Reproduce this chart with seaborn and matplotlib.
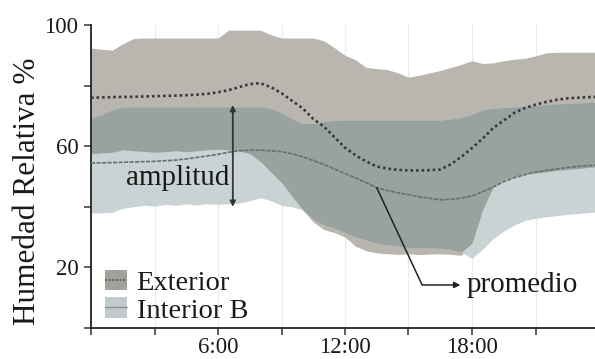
import numpy as np
import pandas as pd
import matplotlib
matplotlib.use("Agg")
import matplotlib.pyplot as plt
import seaborn as sns
from matplotlib.patches import Patch
from matplotlib.lines import Line2D
from matplotlib.legend_handler import HandlerTuple

# ---------------- data (hour of day, relative humidity %) ----------------
hours = np.arange(0, 24.5, 0.5)

ext_hi = [92.4, 92.0, 91.7, 93.8, 95.5, 95.7, 95.7, 95.7, 95.7, 95.7, 95.7, 95.7, 95.7,
          98.3, 98.3, 98.3, 98.3, 96.8, 95.7, 95.7, 95.7, 95.7, 94.8, 92.5, 90.0, 88.5,
          86.0, 85.6, 85.3, 84.2, 82.8, 83.4, 84.2, 85.0, 86.0, 87.0, 88.2, 87.3, 87.5,
          88.2, 88.7, 89.0, 89.8, 90.8, 91.0, 91.0, 91.0, 91.0, 91.0]
ext_lo = [57.5, 57.8, 58.0, 58.8, 58.5, 58.3, 58.0, 58.2, 58.5, 58.2, 58.5, 58.8, 59.0,
          58.8, 58.5, 57.5, 55.0, 51.5, 48.0, 43.5, 39.0, 35.0, 32.5, 31.5, 30.0, 27.0,
          25.5, 24.8, 24.5, 24.3, 24.5, 24.2, 24.4, 24.5, 24.3, 24.0, 28.0, 39.0, 46.5,
          49.0, 50.0, 50.8, 51.2, 51.5, 52.0, 52.3, 52.6, 53.0, 53.2]
int_hi = [69.3, 70.5, 72.0, 73.0, 73.0, 73.0, 73.0, 73.0, 73.0, 73.0, 73.0, 73.0, 73.0,
          73.0, 73.0, 73.0, 73.0, 72.5, 71.0, 69.0, 67.5, 67.5, 68.2, 68.5, 68.6, 68.6,
          68.6, 68.6, 68.6, 68.6, 68.6, 68.6, 68.6, 68.6, 69.0, 69.5, 70.5, 72.0, 72.5,
          72.8, 73.0, 73.2, 73.5, 73.7, 74.0, 74.1, 74.3, 74.4, 74.5]
int_lo = [38.0, 38.0, 38.2, 39.5, 40.0, 40.5, 40.2, 40.8, 40.5, 41.0, 40.6, 41.0, 40.8,
          41.0, 41.2, 42.0, 43.0, 42.0, 40.5, 40.0, 39.0, 36.0, 34.0, 33.0, 31.5, 30.0,
          29.0, 28.0, 27.5, 27.0, 26.5, 26.5, 26.5, 26.3, 26.0, 25.0, 23.0, 26.0, 29.5,
          32.0, 34.0, 35.5, 36.2, 36.7, 37.1, 37.5, 37.8, 38.1, 38.3]
ext_mean = [76.0, 76.1, 76.2, 76.25, 76.3, 76.4, 76.5, 76.6, 76.7, 76.85, 77.0, 77.3, 77.8,
            78.5, 79.5, 80.5, 80.8, 79.5, 77.5, 75.0, 72.5, 69.0, 66.5, 63.0, 59.5, 57.0,
            55.0, 53.3, 52.6, 52.2, 52.0, 52.0, 52.1, 52.3, 54.0, 56.5, 59.4, 62.5, 66.0,
            68.5, 71.0, 72.6, 73.7, 74.6, 75.3, 75.8, 76.0, 76.2, 76.3]
int_mean = [54.5, 54.5, 54.6, 54.7, 54.8, 54.9, 55.0, 55.2, 55.4, 55.8, 56.3, 56.8, 57.3,
            58.0, 58.5, 58.7, 58.7, 58.5, 58.2, 57.5, 56.5, 55.3, 54.0, 52.5, 51.0, 49.5,
            48.0, 46.3, 45.4, 44.6, 44.0, 43.3, 42.8, 42.3, 42.5, 42.9, 43.6, 45.0, 46.5,
            48.3, 49.6, 50.6, 51.4, 52.0, 52.5, 53.0, 53.3, 53.6, 53.8]

series_labels = ["Exterior", "Interior B"]
xtick_pos = [0, 3, 6, 9, 12, 15, 18, 21]
xtick_lab = ["", "", "6:00", "", "12:00", "", "18:00", ""]
ytick_pos = [0, 20, 40, 60, 80, 100]
ytick_lab = ["", "20", "", "60", "", "100"]

# ---------------- style ----------------
sns.set_theme(style="ticks")
plt.rcParams["font.family"] = ["Liberation Serif", "DejaVu Serif"]
plt.rcParams["text.color"] = "#1a1a1a"

C_EXT = "#b8b6af"
C_INT = "#c9d3d4"
C_OV = "#98a3a0"
C_EXT_LEG = "#a3a19c"
C_INT_LEG = "#c2cacb"

fig = plt.figure(figsize=(5.95, 3.59), dpi=100)
ax = fig.add_axes([91 / 595, 31 / 359, 508 / 595, 303 / 359])

e_lo, e_hi = np.array(ext_lo), np.array(ext_hi)
i_lo, i_hi = np.array(int_lo), np.array(int_hi)
ax.fill_between(hours, e_lo, e_hi, color=C_EXT, lw=0, zorder=1)
ax.fill_between(hours, i_lo, i_hi, color=C_INT, lw=0, zorder=1.1)
ov_lo = np.maximum(e_lo, i_lo)
ov_hi = np.minimum(e_hi, i_hi)
ax.fill_between(hours, ov_lo, ov_hi, where=ov_hi > ov_lo, interpolate=True,
                color=C_OV, lw=0, zorder=1.2)

df = pd.DataFrame({"hora": np.concatenate([hours, hours]),
                   "hr": np.concatenate([ext_mean, int_mean]),
                   "serie": [series_labels[0]] * len(hours) + [series_labels[1]] * len(hours)})
sns.lineplot(data=df[df.serie == series_labels[0]], x="hora", y="hr", ax=ax,
             color="#3a3a3a", lw=1.9, linestyle=(0, (1, 1.1)), zorder=3, legend=False)
sns.lineplot(data=df[df.serie == series_labels[1]], x="hora", y="hr", ax=ax,
             color="#65706e", lw=1.2, linestyle=(0, (2.5, 0.8)), zorder=3, legend=False)

# axes
ax.set_xlim(0, 24)
ax.set_ylim(0, 100)
ax.set_xticks(xtick_pos)
ax.set_xticklabels(xtick_lab)
ax.set_yticks(ytick_pos)
ax.set_yticklabels(ytick_lab)
ax.tick_params(axis="both", length=5, width=1.1, colors="#333333", labelsize=16.5,
               labelcolor="#1a1a1a", direction="out")
ax.tick_params(axis="y", pad=4)
ax.tick_params(axis="x", pad=1.5)
ax.set_xlabel("")
ax.set_ylabel("Humedad Relativa %", fontsize=22.5, color="#1a1a1a")
ax.yaxis.set_label_coords(-0.097, 0.45)
for s in ["top", "right"]:
    ax.spines[s].set_visible(False)
for s in ["left", "bottom"]:
    ax.spines[s].set_linewidth(1.3)
    ax.spines[s].set_color("#222222")
ax.grid(axis="x", color="#ebebeb", lw=0.9)
ax.set_axisbelow(True)

# annotations
ax.annotate("", xy=(6.7, 40.0), xytext=(6.7, 73.6),
            arrowprops=dict(arrowstyle="<|-|>", color="#333333", lw=1.3,
                            mutation_scale=8, shrinkA=0, shrinkB=0), zorder=4)
ax.text(4.1, 49.5, "amplitud", ha="center", va="center", fontsize=21, zorder=4)
ax.annotate("", xy=(17.45, 14.2), xytext=(13.5, 46.3),
            arrowprops=dict(arrowstyle="-|>", color="#222222", lw=1.1, mutation_scale=9,
                            connectionstyle="angle,angleA=-65,angleB=0,rad=0",
                            shrinkA=0, shrinkB=0), zorder=4)
ax.text(17.75, 14.2, "promedio", ha="left", va="center", fontsize=21, zorder=4)

# legend
h_ext = (Patch(facecolor=C_EXT_LEG, edgecolor="none"),
         Line2D([], [], color="#555555", lw=1.3, linestyle=(0, (1, 1))))
h_int = (Patch(facecolor=C_INT_LEG, edgecolor="none"),
         Line2D([], [], color="#8a9492", lw=1.0))
ax.legend([h_ext, h_int], series_labels, handler_map={tuple: HandlerTuple(ndivide=1)},
          loc="upper left", bbox_to_anchor=(0.0, 0.24), frameon=False, fontsize=20.5,
          handlelength=0.75, handleheight=0.75, handletextpad=0.35, labelspacing=0.05,
          borderpad=0.2, borderaxespad=0.3)

fig.savefig("out.png", dpi=100)
